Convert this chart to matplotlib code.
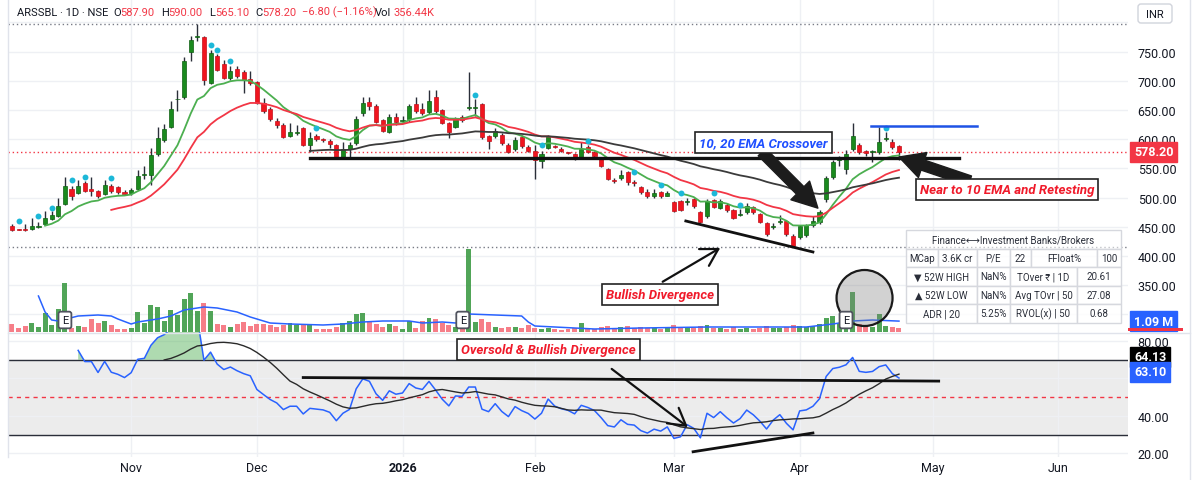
import numpy as np
import pandas as pd
import matplotlib.pyplot as plt
from matplotlib.patches import Ellipse, Rectangle, FancyBboxPatch

plt.rcParams['font.family'] = ['Roboto', 'DejaVu Sans']

W, H = 1199, 481
DARK = '#131722'
RED = '#f23645'
BLUE = '#2962ff'

# ---------------- data ----------------
opens = [451, 446, 446, 446, 449, 455, 463, 468, 489, 515,
         508, 525, 515, 511, 506, 520, 518, 509, 508, 515,
         538, 539, 575, 599, 621, 668, 672, 749, 775, 775,
         696, 743, 729, 705, 720, 715, 703, 698, 662, 651,
         631, 624, 605, 611, 619, 590, 605, 599, 597, 590,
         570, 583, 593, 645, 664, 657, 633, 612, 638, 632,
         634, 660, 652, 646, 672, 650, 628, 621, 638, 654,
         654, 660, 605, 605, 608, 590, 583, 604, 587, 580,
         562, 585, 588, 583, 577, 575, 569, 587, 578, 569,
         549, 529, 533, 544, 527, 518, 510, 503, 510, 503,
         492, 494, 493, 497, 475, 468, 496, 482, 488, 479,
         471, 475, 484, 472, 456, 450, 459, 460, 435, 432,
         436, 453, 458, 498, 535, 564, 549, 583, 590, 580,
         578, 578, 600, 595, 587.9]
highs = [455, 447, 455, 465, 458, 477, 477, 499, 535, 520,
         530, 528, 535, 513, 530, 523, 520, 513, 516, 547,
         554, 585, 621, 626, 665, 684, 741, 777, 797, 776,
         752, 746, 735, 725, 725, 718, 717, 700, 670, 655,
         636, 628, 628, 624, 621, 612, 609, 602, 600, 591,
         595, 595, 640, 672, 672, 660, 635, 643, 645, 640,
         660, 672, 662, 684, 684, 652, 630, 638, 642, 715,
         668, 662, 608, 619, 610, 593, 604, 607, 590, 590,
         580, 607, 590, 586, 578, 577, 595, 590, 580, 570,
         550, 533, 547, 546, 530, 520, 515, 515, 512, 511,
         494, 496, 499, 499, 477, 498, 498, 497, 490, 481,
         480, 490, 486, 474, 458, 456, 470, 462, 437, 453,
         455, 468, 478, 537, 565, 572, 582, 628, 594, 582,
         582, 621, 612, 600, 590]
lows = [443, 444, 443, 445, 448, 454, 461, 466, 487, 496,
        506, 509, 503, 500, 504, 508, 506, 504, 504, 513,
        532, 521, 572, 596, 619, 648, 669, 734, 768, 693,
        694, 717, 703, 701, 704, 679, 693, 660, 645, 632,
        620, 602, 603, 607, 588, 578, 597, 595, 585, 566,
        566, 568, 590, 640, 650, 628, 612, 610, 625, 627,
        630, 645, 642, 644, 645, 626, 602, 619, 630, 650,
        640, 600, 583, 602, 590, 576, 580, 585, 578, 532,
        550, 583, 585, 578, 575, 565, 566, 576, 568, 552,
        530, 525, 530, 522, 520, 506, 500, 500, 500, 502,
        475, 477, 488, 482, 456, 465, 482, 480, 476, 463,
        468, 472, 472, 456, 434, 446, 455, 434, 415, 429,
        432, 450, 455, 492, 532, 555, 540, 580, 575, 572,
        561, 575, 597, 583, 565.1]
closes = [445, 445, 445, 451, 452, 465, 470, 485, 520, 502,
          520, 511, 511, 502, 521, 511, 509, 506, 513, 537,
          539, 573, 602, 617, 652, 669, 734, 770, 776, 701,
          748, 719, 705, 717, 708, 701, 696, 662, 648, 634,
          624, 604, 612, 612, 590, 602, 600, 598, 592, 570,
          583, 590, 634, 662, 657, 630, 614, 638, 630, 633,
          657, 648, 645, 665, 648, 628, 612, 634, 633, 655,
          655, 604, 597, 614, 593, 578, 599, 588, 580, 564,
          575, 605, 587, 580, 576, 567, 583, 578, 571, 554,
          532, 528, 539, 527, 525, 510, 503, 508, 503, 508,
          477, 479, 494, 485, 458, 495, 484, 494, 479, 465,
          472, 486, 475, 459, 437, 451, 460, 437, 417, 451,
          453, 460, 475, 533, 561, 566, 575, 605, 578, 576,
          579, 595, 601, 586, 578.2]
# volume in thousands of shares
volumes = [770, 430, 600, 870, 500, 1870, 700, 2300, 4930, 400,
           600, 500, 1270, 870, 1100, 700, 330, 330, 430, 2000,
           930, 2670, 2530, 1100, 2200, 1670, 3330, 3870, 2100, 2930,
           2100, 770, 670, 530, 770, 1000, 600, 770, 770, 700,
           530, 670, 870, 730, 670, 770, 330, 330, 270, 530,
           870, 1100, 1830, 1930, 1100, 770, 530, 770, 600, 330,
           1070, 430, 1070, 1430, 1330, 930, 670, 530, 430, 8270,
           1000, 1330, 1000, 530, 430, 530, 500, 430, 670, 430,
           330, 400, 270, 200, 330, 430, 870, 400, 330, 500,
           600, 400, 500, 600, 400, 500, 400, 400, 300, 400,
           700, 500, 400, 400, 600, 700, 400, 400, 300, 500,
           300, 400, 300, 400, 600, 400, 400, 500, 700, 600,
           500, 600, 800, 1400, 1600, 800, 1200, 4000, 800, 500,
           500, 1800, 600, 500, 356]
volma_idx = [4, 5, 6, 7, 10, 13, 15, 16, 18, 19, 22, 24, 26, 29, 31, 34, 36, 39,
             42, 47, 50, 53, 56, 60, 62, 65, 67, 68, 69, 73, 77, 78, 79, 82, 88,
             95, 105, 115, 120, 124, 127, 130, 134]
volma_vals = [3600, 2000, 1200, 1100, 1600, 1700, 1600, 1300, 800, 1000, 1300, 1600,
              2200, 2500, 2400, 2000, 1500, 900, 800, 700, 800, 1000, 1100, 1100,
              900, 1000, 900, 950, 1800, 1700, 1600, 1000, 600, 500, 300, 400, 500,
              500, 500, 800, 1100, 1200, 1090]

dot_idx = [1, 4, 6, 9, 11, 15, 30, 31, 33, 46, 70, 80, 87, 94, 98, 101, 106, 110, 132]
dot_price = [460, 468, 482, 530, 535, 534, 761, 753, 734, 619, 676, 590, 597, 544,
             522, 508, 508, 487, 619]

month_ticks = [18, 37, 59, 79, 100, 119, 139.1, 158]
month_labels = ['Nov', 'Dec', '2026', 'Feb', 'Mar', 'Apr', 'May', 'Jun']

# EMA length -> (first visible bar, value there)
ema_seeds = {10: (5, 452), 20: (15, 479), 50: (45, 580)}
ema_colors = {10: '#4caf50', 20: RED, 50: '#3b3b3b'}
rsi_start, rsi_gain0, rsi_loss0 = 10, 6.0, 2.0
# last values shown in the RSI scale tags (MA, RSI) and where the tags sit
rsi_tag_vals = [64.13, 63.10]
rsi_tag_pos = [71.5, 63.5]
vol_ma_last = 1090
earnings_idx = [8.0, 68.1, 126.0]

support_line = ([45, 143], [568, 568])
resist_line = ([129.8, 145.8], [622.5, 622.5])
price_div_line = ([101.8, 121], [460, 407])
rsi_hline = ([44, 140], [60.5, 58.6])
rsi_div_line = ([102.9, 121], [20.9, 30.9])

header = [(16.7, 'ARSSBL · 1D · NSE', DARK), (113, 'O', DARK), (120.5, '587.90', RED),
          (161, 'H', DARK), (168.5, '590.00', RED), (209, 'L', DARK), (215.5, '565.10', RED),
          (255, 'C', DARK), (262, '578.20', RED), (302, '−6.80 (−1.16%)', RED),
          (375, 'Vol', DARK), (393, '356.44K', RED)]

table_title = 'Finance⟷Investment Banks/Brokers'
table_rows = [['MCap', '3.6K cr', 'P/E', '22', 'FFloat%', '100'],
              ['▼ 52W HIGH', 'NaN%', 'TOver ₹ | 1D', '20.61'],
              ['▲ 52W LOW', 'NaN%', 'Avg TOvr | 50', '27.08'],
              ['ADR | 20', '5.25%', 'RVOL(x) | 50', '0.68']]

# ---------------- helpers ----------------
def ema(vals, span, start, seed):
    a = 2 / (span + 1)
    out = np.full(len(vals), np.nan)
    out[start] = seed
    for i in range(start + 1, len(vals)):
        out[i] = a * vals[i] + (1 - a) * out[i - 1]
    return out


def wilder_rsi(vals, start, g0, l0, n=14):
    out = np.full(len(vals), np.nan)
    ag, al = g0, l0
    out[start] = 100 - 100 / (1 + ag / al)
    for i in range(start + 1, len(vals)):
        d = vals[i] - vals[i - 1]
        ag = (ag * (n - 1) + max(d, 0)) / n
        al = (al * (n - 1) + max(-d, 0)) / n
        out[i] = 100 - 100 / (1 + ag / al)
    return out


def rect(x0, y0, x1, y1):
    return [x0 / W, 1 - y1 / H, (x1 - x0) / W, (y1 - y0) / H]


o, h, l, c = (np.array(v, dtype=float) for v in (opens, highs, lows, closes))
x = np.arange(len(c))
up = c >= o

fig = plt.figure(figsize=(W / 100, H / 100), dpi=100)
ax = fig.add_axes(rect(8, 0, 1128, 333))
vax = ax.twinx()
rax = fig.add_axes(rect(8, 333, 1128, 458), sharex=ax)
ov = fig.add_axes([0, 0, 1, 1], zorder=30)
ov.set_xlim(0, W)
ov.set_ylim(H, 0)
ov.axis('off')

for a in (ax, vax, rax):
    for s in a.spines.values():
        s.set_visible(False)

# ---------------- price pane ----------------
ax.set_xlim(-0.6, 168.6)
ax.set_ylim(270, 840)
ax.set_xticks(month_ticks)
ax.set_yticks(range(300, 801, 50))
# 300 sits under the volume tag and 800 under the INR box
ax.set_yticklabels([f'{v:.2f}' if 300 < v < 800 else '' for v in range(300, 801, 50)])
ax.yaxis.tick_right()
ax.tick_params(axis='x', length=0, labelbottom=False)
ax.tick_params(axis='y', length=0, pad=7, labelsize=9, labelcolor=DARK)
ax.grid(True, color='#eef0f4', lw=1)
ax.set_axisbelow(True)

ax.vlines(x, l, h, colors='#2a2e39', lw=1, zorder=3)
ax.bar(x, np.maximum(np.abs(c - o), 1.6), bottom=np.minimum(o, c), width=0.62,
       color=np.where(up, '#1a8a1e', '#f0151f'),
       edgecolor=np.where(up, '#0f5e12', '#c3101a'), lw=0.5, zorder=4)

for span, (start, seed) in ema_seeds.items():
    ax.plot(x, ema(c, span, start, seed), color=ema_colors[span], lw=1.3, zorder=5)

ax.scatter(dot_idx, dot_price, s=18, color='#1cb8d8', linewidths=0, zorder=6)

ax.axhline(max(highs), color='#787b86', ls=(0, (1, 2)), lw=1, zorder=2)
ax.axhline(min(lows), color='#787b86', ls=(0, (1, 2)), lw=1, zorder=2)
ax.axhline(c[-1], color=RED, ls=(0, (1, 2)), lw=1, zorder=2)

ax.plot(*support_line, color='#111111', lw=2.4, zorder=6)
ax.plot(*resist_line, color='#1e53e5', lw=1.8, zorder=6)
ax.plot(*price_div_line, color='#111111', lw=2, zorder=6)

box = dict(boxstyle='square,pad=0.3', fc='white', ec='#222222', lw=1.2)
txt = dict(ha='center', va='center', fontsize=9.5, fontweight='bold',
           fontstyle='italic', zorder=9)
ax.text(113.5, 595, '10, 20 EMA Crossover', color='#1f4fff', bbox=box, **txt)
ax.text(150.3, 514.5, 'Near to 10 EMA and Retesting', color='#f01a2a', bbox=box, **txt)
ax.text(97.9, 334, 'Bullish Divergence', color='#f01a2a', bbox=box, **txt)

big = dict(arrowstyle='simple,head_length=0.9,head_width=0.95,tail_width=0.38',
           fc='#1c1c1c', ec='#1c1c1c', mutation_scale=20, shrinkA=0, shrinkB=0)
ax.annotate('', xy=(121.75, 482), xytext=(113.3, 578), arrowprops=big, zorder=8)
ax.annotate('', xy=(134.0, 569.5), xytext=(144.7, 528.5), arrowprops=big, zorder=8)
thin = dict(arrowstyle='->,head_length=0.6,head_width=0.35', color='#111111', lw=1.6,
            mutation_scale=20, shrinkA=0, shrinkB=0)
ax.annotate('', xy=(107.0, 414), xytext=(98.3, 356), arrowprops=thin, zorder=8)

ax.text(1.0054, c[-1], f'{c[-1]:.2f}', transform=ax.get_yaxis_transform(), ha='left',
        va='center', color='white', fontsize=9, fontweight='bold', clip_on=False,
        bbox=dict(boxstyle='square,pad=0.3', fc=RED, ec=RED), zorder=12)

# ---------------- volume overlay ----------------
vax.set_ylim(0, 33300)
vax.set_yticks([])
vax.bar(x, volumes, width=0.75, color=np.where(up, '#3e9b46', '#f5707b'), alpha=0.9, zorder=2)
vax.plot(volma_idx, volma_vals, color=BLUE, lw=1.1, zorder=3)
vax.add_patch(Ellipse((128.8, 3400), 8.46, 5600, fc=(0.5, 0.5, 0.5, 0.35),
                      ec='#1a1a1a', lw=1.6, zorder=5))
for xi in earnings_idx:
    vax.text(xi, 1200, 'E', ha='center', va='center', fontsize=8, color=DARK, zorder=7,
             bbox=dict(boxstyle='round,pad=0.3,rounding_size=0.2', fc='white',
                       ec='#50535e', lw=1.3))
vax.text(1.0054, vol_ma_last, f'{vol_ma_last / 1000:.2f} M', transform=vax.get_yaxis_transform(),
         ha='left', va='center', color='white', fontsize=9, fontweight='bold', clip_on=False,
         bbox=dict(boxstyle='square,pad=0.3', fc=BLUE, ec=BLUE), zorder=12)

# ---------------- RSI pane ----------------
rsi = wilder_rsi(c, rsi_start, rsi_gain0, rsi_loss0)
rsi_ma = pd.Series(rsi).rolling(14).mean().to_numpy()

rax.set_facecolor('white')
rax.set_ylim(18.1, 84.8)
rax.set_yticks([20, 40, 60, 80])
# 60 sits under the RSI value tag
rax.set_yticklabels([f'{v:.2f}' if v != 60 else '' for v in (20, 40, 60, 80)])
rax.yaxis.tick_right()
rax.tick_params(axis='y', length=0, pad=7, labelsize=9, labelcolor=DARK)
rax.set_xticks(month_ticks)
rax.set_xticklabels(month_labels)
rax.tick_params(axis='x', length=0, pad=3, labelsize=9, labelcolor=DARK)
rax.get_xticklabels()[2].set_fontweight('bold')
rax.grid(True, color='#eef0f4', lw=1)
rax.set_axisbelow(True)

rax.axhspan(30, 70, color='#ececec', zorder=0.5)
rax.axhline(70, color='#2a2e39', lw=1, zorder=1)
rax.axhline(30, color='#2a2e39', lw=1, zorder=1)
rax.axhline(50, color=RED, ls=(0, (3, 3)), lw=1, zorder=1)
rax.fill_between(x, rsi, 70, where=rsi >= 70, interpolate=True, color='#4caf50',
                 alpha=0.45, lw=0, zorder=2)
rax.fill_between(x, rsi, 30, where=rsi <= 30, interpolate=True, color=RED,
                 alpha=0.15, lw=0, zorder=2)
rax.plot(x, rsi, color=BLUE, lw=1.1, zorder=3)
rax.plot(x, rsi_ma, color='#2a2a2a', lw=1, zorder=3)

rax.plot(*rsi_hline, color='#111111', lw=2, zorder=4)
rax.plot(*rsi_div_line, color='#111111', lw=2, zorder=4)
rax.annotate('', xy=(102.1, 34.1), xytext=(90.6, 65.1), arrowprops=thin, zorder=5)
rax.text(81.1, 75.7, 'Oversold & Bullish Divergence', color='#f01a2a', bbox=box, **txt)

for val, pos, col in zip(rsi_tag_vals, rsi_tag_pos, ['black', BLUE]):
    rax.text(1.0054, pos, f'{val:.2f}', transform=rax.get_yaxis_transform(),
             ha='left', va='center', color='white', fontsize=9, fontweight='bold',
             clip_on=False, bbox=dict(boxstyle='square,pad=0.3', fc=col, ec=col),
             zorder=12)

# ---------------- overlay: header, frame, table ----------------
for hx, s, col in header:
    ov.text(hx, 12.5, s, color=col, fontsize=8, va='center', ha='left')

ov.add_patch(FancyBboxPatch((1138, 5), 34, 19, boxstyle='round,pad=0,rounding_size=3',
                            fc='white', ec='#d1d4dc', lw=1))
ov.text(1155, 14.5, 'INR', ha='center', va='center', fontsize=8, color=DARK)
ov.plot([1190, 1190], [0, H], color='#e0e3eb', lw=1)
ov.plot([8, 8], [0, 458], color='#e0e3eb', lw=1)
ov.plot([8, 1190], [333.5, 333.5], color='#e0e3eb', lw=1)
# edge of the (hidden) red volume tag peeking below the blue one
ov.add_patch(Rectangle((1128, 329), 55, 3, fc=RED, ec='none'))

row_y = [231, 250, 268, 287, 305, 324]
cols_first = [906, 938, 977, 1010, 1031, 1097, 1121]
cols_rest = [906, 977, 1010, 1077, 1121]
grid_col = '#d6d8de'
ov.add_patch(Rectangle((906, row_y[0]), 1121 - 906, row_y[1] - row_y[0],
                       fc=(1, 1, 1, 0.55), ec=grid_col, lw=1))
ov.text((906 + 1121) / 2, (row_y[0] + row_y[1]) / 2, table_title, ha='center',
        va='center', fontsize=7, color='#2a2e39')
for r, cells in enumerate(table_rows):
    edges = cols_first if r == 0 else cols_rest
    y0, y1 = row_y[r + 1], row_y[r + 2]
    for k, s in enumerate(cells):
        ov.add_patch(Rectangle((edges[k], y0), edges[k + 1] - edges[k], y1 - y0,
                               fc=(1, 1, 1, 0.85), ec=grid_col, lw=1))
        ov.text((edges[k] + edges[k + 1]) / 2, (y0 + y1) / 2, s, ha='center',
                va='center', fontsize=7, color='#2a2e39')

fig.savefig('out.png', dpi=100)
